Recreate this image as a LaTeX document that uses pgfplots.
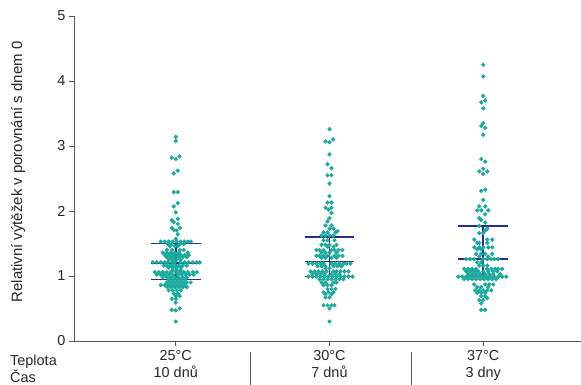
\documentclass[border=0pt]{standalone}
\usepackage{fontspec}
\setmainfont{Liberation Sans}
\usepackage{pgfplots}
\usepackage{pgfplotstable}
\pgfplotsset{compat=1.18}
\usetikzlibrary{calc}
\definecolor{dotc}{RGB}{26,169,156}
\definecolor{navy1}{RGB}{36,48,140}
\definecolor{axgray}{RGB}{85,85,85}

% group 1 (25 C): dx = horizontal swarm offset in px, y = value
\pgfplotstableread{
dx y
0 3.14
0 3.08
3.7 2.84
-4 2.82
0 2.80
2 2.62
-2 2.58
-2 2.29
2 2.29
2 2.12
-2 2.07
0 1.98
2 1.88
-4 1.86
-2 1.83
2 1.80
-4 1.74
4 1.74
-2 1.71
1 1.70
2 1.64
0 1.57
-15 1.53
-11 1.53
-7 1.53
-3 1.53
1 1.53
5 1.53
8.5 1.53
12 1.53
15 1.53
-8 1.49
-4 1.49
4 1.49
8 1.49
-6 1.46
-1 1.46
2 1.46
-9 1.40
-4 1.40
4 1.40
8 1.40
-13 1.36
-9 1.36
-5 1.36
-1 1.36
3 1.36
12 1.36
-11 1.32
-7 1.32
-3 1.32
1 1.32
5 1.32
9 1.32
13 1.32
-9 1.29
-5 1.29
-1 1.29
3 1.29
7 1.29
11 1.29
-7 1.25
-3 1.25
1 1.25
5 1.25
-23 1.21
-19 1.21
-15 1.21
-11 1.21
-8 1.21
-4 1.21
-1 1.21
5 1.21
9 1.21
13 1.21
17 1.21
21 1.21
24 1.21
-12 1.16
-9 1.16
-6 1.16
-3 1.16
0 1.16
3 1.16
7 1.16
11 1.16
-7 1.13
-3 1.13
1 1.13
5 1.13
-3 1.09
1 1.09
5 1.09
-21 1.06
-17 1.06
-13 1.06
-9 1.06
-5 1.06
0 1.06
4 1.06
8 1.06
12 1.06
17 1.06
21 1.06
-19 1.02
-15 1.02
-11 1.02
-7 1.02
-3 1.02
2 1.02
6 1.02
10 1.02
14 1.02
18 1.02
-13 0.98
-9 0.98
-5 0.98
-1 0.98
3 0.98
7 0.98
11 0.98
-7 0.94
-3 0.94
1 0.94
5 0.94
9 0.94
-9 0.90
-5 0.90
-1 0.90
3 0.90
7 0.90
11 0.90
15 0.90
-15 0.86
-11 0.86
-7 0.86
-3 0.86
1 0.86
5 0.86
9 0.86
-9 0.83
-5 0.83
-1 0.83
3 0.83
7 0.83
11 0.83
-7 0.78
-3 0.78
1 0.78
5 0.78
-2 0.73
2 0.73
0 0.69
4 0.69
-4 0.65
0 0.65
0 0.59
4 0.50
-4 0.48
0 0.47
0 0.30
}\gone

% group 2 (30 C)
\pgfplotstableread{
dx y
0 3.26
3.7 3.10
-4 3.07
0 3.06
0 2.87
-2 2.72
2 2.66
-2 2.55
2 2.55
0 2.42
0 2.23
-2 2.13
2 2.13
-4 2.05
2 2.05
-1 2.02
2 1.97
0 1.89
-2 1.84
-4 1.78
2 1.78
0 1.73
4 1.73
-6 1.67
-2 1.67
6 1.67
8 1.69
-8 1.62
-4 1.62
0 1.62
4 1.62
-6 1.55
-2 1.55
5 1.55
-8 1.48
-4 1.48
0 1.48
7 1.48
-2 1.45
4 1.45
-13 1.40
-10 1.40
-6 1.40
2 1.40
5 1.40
9 1.40
13 1.40
-8 1.36
-4 1.36
0 1.36
7 1.36
-13 1.31
-10 1.31
-6 1.31
-2 1.31
5 1.31
9 1.31
13 1.31
-8 1.28
-4 1.28
2 1.28
7 1.28
-21 1.19
-17 1.19
-13 1.19
-9 1.19
-6 1.19
2 1.19
6 1.19
10 1.19
14 1.19
17 1.19
21 1.19
-12 1.15
-8 1.15
-4 1.15
4 1.15
8 1.15
12 1.15
-4 1.12
0 1.12
-19 1.07
-15 1.07
-11 1.07
-7 1.07
-3 1.07
4 1.07
7 1.07
11 1.07
15 1.07
19 1.07
-17 1.03
-13 1.03
-9 1.03
-5 1.03
2 1.03
6 1.03
10 1.03
-21 0.99
-17 0.99
-13 0.99
-9 0.99
-5 0.99
-1 0.99
3 0.99
7 0.99
11 0.99
15 0.99
19 0.99
23 0.99
-10 0.95
-6 0.95
-2 0.95
2 0.95
6 0.95
10 0.95
14 0.95
-8 0.90
-4 0.90
4 0.90
7 0.90
-6 0.86
-2 0.86
2 0.86
-2 0.80
2 0.80
6 0.80
-6 0.75
-1 0.75
4 0.75
-4 0.72
2 0.72
-4 0.67
0 0.67
-6 0.55
-2 0.55
2 0.55
5 0.55
0 0.50
0 0.30
}\gtwo

% group 3 (37 C)
\pgfplotstableread{
dx y
0 4.25
0 4.07
0 3.77
2 3.70
-2 3.67
0 3.58
0 3.35
-2 3.31
2 3.28
0 3.17
-2 2.80
2 2.76
0 2.65
-4 2.61
4 2.61
0 2.57
2 2.33
-2 2.31
0 2.17
-4 2.07
2 2.07
-6 2.01
-2 2.01
5 2.01
2 1.95
-4 1.89
-2 1.86
2 1.82
-4 1.77
4 1.73
2 1.70
-4 1.66
0 1.66
-9 1.56
4 1.56
9 1.56
-6 1.51
-4 1.51
4 1.51
-9 1.44
-4 1.44
0 1.44
5 1.44
9 1.44
-6 1.41
-2 1.41
-7 1.34
-2 1.34
2 1.34
9 1.34
-4 1.30
5 1.30
-17 1.26
-13 1.26
-9 1.26
0 1.26
4 1.26
8 1.26
11 1.26
15 1.26
-6 1.21
-2 1.21
-4 1.16
0 1.16
4 1.16
-19 1.11
-15 1.11
-11 1.11
-7 1.11
4 1.11
8 1.11
12 1.11
15 1.11
19 1.11
-17 1.07
-13 1.07
-9 1.07
-5 1.07
0 1.07
5 1.07
10 1.07
14 1.07
-15 1.03
-11 1.03
-7 1.03
-3 1.03
2 1.03
6 1.03
10 1.03
17 1.03
-25 0.99
-21 0.99
-17 0.99
-13 0.99
-9 0.99
-5 0.99
-1 0.99
3 0.99
7 0.99
11 0.99
15 0.99
19 0.99
23 0.99
-19 0.95
-15 0.95
-11 0.95
-7 0.95
-3 0.95
1 0.95
5 0.95
9 0.95
13 0.95
-9 0.87
2 0.87
6 0.87
10 0.87
-6 0.83
-2 0.83
5 0.83
-8 0.78
-4 0.78
0 0.78
4 0.78
8 0.78
-6 0.74
-2 0.74
2 0.74
-2 0.69
2 0.69
4 0.66
-4 0.63
0 0.63
-2 0.58
-2 0.48
2 0.48
}\gthree

\begin{document}
\begin{tikzpicture}
\begin{axis}[
  scale only axis,
  width=507bp, height=325bp,
  xmin=0.338, xmax=3.636, ymin=0, ymax=5,
  axis x line*=bottom, axis y line*=left,
  axis line style={axgray, line width=0.8bp},
  xtick={1,2,3},
  xticklabels={{25°C\\10 dnů},{30°C\\7 dnů},{37°C\\3 dny}},
  ytick={0,1,2,3,4,5},
  tick align=outside,
  major tick length=5bp,
  tick style={axgray, line width=0.8bp},
  /pgf/number format/assume math mode=true,
  x tick label style={align=center, font=\fontsize{14.5}{17}\selectfont, text=black!85, yshift=-1bp},
  y tick label style={font=\fontsize{14.5}{16}\selectfont, text=black!85},
  ylabel={Relativní výtěžek v porovnání s dnem 0},
  ylabel style={at={(axis description cs:-0.110,0.52)}, anchor=center, font=\fontsize{15}{16}\selectfont, text=black!85},
  clip=false,
]
\addplot[only marks, mark=*, color=dotc, mark size=1.95bp, mark options={draw=none, fill=dotc}]
  table[x expr=1+\thisrow{dx}/154, y=y]{\gone};
\addplot[only marks, mark=*, color=dotc, mark size=1.95bp, mark options={draw=none, fill=dotc}]
  table[x expr=2+\thisrow{dx}/154, y=y]{\gtwo};
\addplot[only marks, mark=*, color=dotc, mark size=1.95bp, mark options={draw=none, fill=dotc}]
  table[x expr=3+\thisrow{dx}/154, y=y]{\gthree};

% median and quartiles
\addplot[navy1, line width=1.5bp, no marks] coordinates {(0.838,1.50) (1.162,1.50)};
\addplot[navy1, line width=1.5bp, no marks] coordinates {(0.838,1.20) (1.162,1.20)};
\addplot[navy1, line width=1.5bp, no marks] coordinates {(0.838,0.95) (1.162,0.95)};
\addplot[navy1, line width=1.5bp, no marks] coordinates {(1,0.95) (1,1.50)};
\addplot[navy1, line width=1.5bp, no marks] coordinates {(1.838,1.60) (2.162,1.60)};
\addplot[navy1, line width=1.5bp, no marks] coordinates {(1.838,1.22) (2.162,1.22)};
\addplot[navy1, line width=1.5bp, no marks] coordinates {(1.838,0.99) (2.162,0.99)};
\addplot[navy1, line width=1.5bp, no marks] coordinates {(2,0.99) (2,1.60)};
\addplot[navy1, line width=1.5bp, no marks] coordinates {(2.838,1.77) (3.162,1.77)};
\addplot[navy1, line width=1.5bp, no marks] coordinates {(2.838,1.26) (3.162,1.26)};
\addplot[navy1, line width=1.5bp, no marks] coordinates {(2.838,0.99) (3.162,0.99)};
\addplot[navy1, line width=1.5bp, no marks] coordinates {(3,0.99) (3,1.77)};

% separators
\draw[axgray, line width=0.8bp] ([yshift=-10.5bp]axis cs:1.487,0) -- ([yshift=-44bp]axis cs:1.487,0);
\draw[axgray, line width=0.8bp] ([yshift=-10.5bp]axis cs:2.532,0) -- ([yshift=-44bp]axis cs:2.532,0);

\node[anchor=north west, align=left, inner sep=0pt, font=\fontsize{14.5}{13.5}\selectfont, text=black!85]
  at ([xshift=-64bp,yshift=-14bp]axis cs:0.338,0) {Teplota\\Čas};

\coordinate (bl) at (axis cs:0.338,0);
\coordinate (tr) at (axis cs:3.636,5);
\end{axis}
\pgfresetboundingbox
\path ($(bl)+(-74bp,-44bp)$) rectangle ($(tr)+(0bp,16bp)$);
\end{tikzpicture}
\end{document}
